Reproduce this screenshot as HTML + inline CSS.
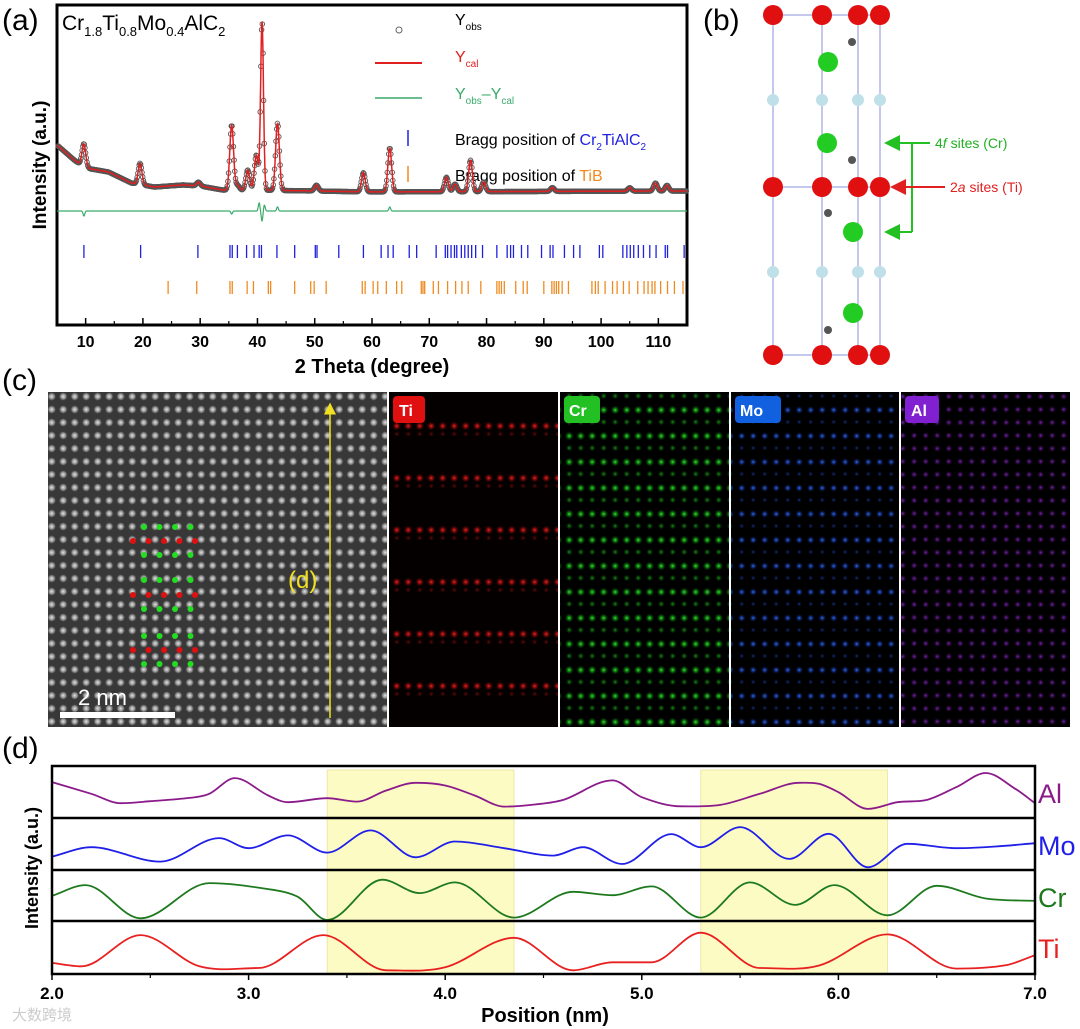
<!DOCTYPE html>
<html><head><meta charset="utf-8"><style>
html,body{margin:0;padding:0;background:#fff;width:1080px;height:1029px;overflow:hidden}
svg{display:block;font-family:"Liberation Sans",Arial,sans-serif}
</style></head><body>
<svg id="fig" width="1080" height="1029" viewBox="0 0 1080 1029" xmlns="http://www.w3.org/2000/svg">
<defs>
<radialGradient id="gw"><stop offset="0" stop-color="#e8e8e8"/><stop offset="0.6" stop-color="#9a9a9a" stop-opacity="0.8"/><stop offset="1" stop-color="#3a3a3a" stop-opacity="0"/></radialGradient>
<pattern id="hr" width="11.5" height="13" patternUnits="userSpaceOnUse"><rect width="11.5" height="13" fill="#383838"/><circle cx="5.7" cy="6.5" r="4.6" fill="url(#gw)"/></pattern>
<radialGradient id="gr"><stop offset="0" stop-color="#ff2020"/><stop offset="1" stop-color="#600" stop-opacity="0"/></radialGradient>
<radialGradient id="gg"><stop offset="0" stop-color="#30f030"/><stop offset="1" stop-color="#060" stop-opacity="0"/></radialGradient>
<radialGradient id="gb"><stop offset="0" stop-color="#3070ff"/><stop offset="1" stop-color="#003" stop-opacity="0"/></radialGradient>
<radialGradient id="gp"><stop offset="0" stop-color="#9a30e0"/><stop offset="1" stop-color="#203" stop-opacity="0"/></radialGradient>
<pattern id="pTi" width="11.5" height="52" patternUnits="userSpaceOnUse" y="420"><rect width="11.5" height="52" fill="#050000"/><circle cx="5.7" cy="6" r="4.5" fill="url(#gr)"/><circle cx="5.7" cy="14" r="3" fill="url(#gr)" opacity="0.4"/></pattern>
<pattern id="pCr" width="11.5" height="26" patternUnits="userSpaceOnUse" y="430"><rect width="11.5" height="26" fill="#000"/><circle cx="5.7" cy="6" r="4.5" fill="url(#gg)"/><circle cx="5.7" cy="18" r="3.5" fill="url(#gg)" opacity="0.6"/></pattern>
<pattern id="pMo" width="11.5" height="26" patternUnits="userSpaceOnUse" y="430"><rect width="11.5" height="26" fill="#000"/><circle cx="5.7" cy="6" r="4.3" fill="url(#gb)"/><circle cx="5.7" cy="18" r="3" fill="url(#gb)" opacity="0.5"/></pattern>
<pattern id="pAl" width="11.5" height="13" patternUnits="userSpaceOnUse"><rect width="11.5" height="13" fill="#000"/><circle cx="5.7" cy="6.5" r="3.8" fill="url(#gp)" opacity="0.8"/></pattern>
<marker id="ag" markerWidth="8" markerHeight="8" refX="7" refY="4" orient="auto"><path d="M0,0L8,4L0,8z" fill="#22c022"/></marker>
<marker id="ar" markerWidth="8" markerHeight="8" refX="7" refY="4" orient="auto"><path d="M0,0L8,4L0,8z" fill="#e02020"/></marker>
<marker id="ay" markerWidth="8" markerHeight="8" refX="7" refY="4" orient="auto"><path d="M0,0L8,4L0,8z" fill="#f0e020"/></marker>
</defs>

<text x="2" y="30" font-size="30">(a)</text>
<text x="703" y="30" font-size="30">(b)</text>
<text x="2" y="390" font-size="30">(c)</text>
<text x="2" y="758" font-size="30">(d)</text>

<g id="pa">
<rect x="57" y="5" width="630" height="320" fill="none" stroke="#000" stroke-width="3"/>
<text x="62" y="30" font-size="21">Cr<tspan font-size="13" dy="6">1.8</tspan><tspan dy="-6">Ti</tspan><tspan font-size="13" dy="6">0.8</tspan><tspan dy="-6">Mo</tspan><tspan font-size="13" dy="6">0.4</tspan><tspan dy="-6">AlC</tspan><tspan font-size="13" dy="6">2</tspan></text>
<g>
<circle cx="399" cy="30" r="3" fill="none" stroke="#666"/>
<text x="455" y="25" font-size="16">Y<tspan font-size="10" dy="5">obs</tspan></text>
<line x1="375" y1="63" x2="422" y2="63" stroke="#e02020" stroke-width="2"/>
<text x="455" y="62" font-size="16" fill="#e02020">Y<tspan font-size="10" dy="5">cal</tspan></text>
<line x1="375" y1="98" x2="422" y2="98" stroke="#3aaa6a" stroke-width="1.5"/>
<text x="455" y="99" font-size="16" fill="#3aaa6a">Y<tspan font-size="10" dy="5">obs</tspan><tspan dy="-5">–Y</tspan><tspan font-size="10" dy="5">cal</tspan></text>
<line x1="408" y1="130" x2="408" y2="146" stroke="#2020e0" stroke-width="1.5"/>
<text x="455" y="145" font-size="16">Bragg position of <tspan fill="#2020e0">Cr</tspan><tspan fill="#2020e0" font-size="10" dy="5">2</tspan><tspan fill="#2020e0" dy="-5">TiAlC</tspan><tspan fill="#2020e0" font-size="10" dy="5">2</tspan></text>
<line x1="408" y1="166" x2="408" y2="182" stroke="#f08a20" stroke-width="1.5"/>
<text x="455" y="181" font-size="16">Bragg position of <tspan fill="#f08a20">TiB</tspan></text>
</g>
<text transform="translate(46,165) rotate(-90)" text-anchor="middle" font-size="19" font-weight="bold">Intensity (a.u.)</text>
<text x="372" y="373" text-anchor="middle" font-size="20" font-weight="bold">2 Theta (degree)</text>
</g>

<g id="pb">
<g stroke="#8890d8" stroke-width="1" fill="none">
<line x1="773" y1="15" x2="773" y2="355"/><line x1="822" y1="15" x2="822" y2="355"/><line x1="858" y1="15" x2="858" y2="355"/><line x1="880" y1="15" x2="880" y2="355"/>
<line x1="773" y1="15" x2="880" y2="15"/><line x1="773" y1="355" x2="880" y2="355"/><line x1="773" y1="187" x2="880" y2="187"/>
</g>
<g id="atoms"></g>
<text x="935" y="148" font-size="14" fill="#22b022">4<tspan font-style="italic">f</tspan> sites (Cr)</text>
<text x="950" y="192" font-size="14" fill="#e02020">2<tspan font-style="italic">a</tspan> sites (Ti)</text>
<path d="M930,143 L912,143 L912,232" stroke="#22c022" stroke-width="2" fill="none"/>
<line x1="912" y1="143" x2="886" y2="143" stroke="#22c022" stroke-width="2" marker-end="url(#ag)"/>
<line x1="912" y1="232" x2="886" y2="232" stroke="#22c022" stroke-width="2" marker-end="url(#ag)"/>
<line x1="945" y1="187" x2="892" y2="187" stroke="#e02020" stroke-width="2" marker-end="url(#ar)"/>
</g>

<g id="pc">
<rect x="48" y="392" width="339" height="335" fill="url(#hr)"/>
<g id="overlay"></g>
<line x1="330" y1="718" x2="330" y2="404" stroke="#f0e020" stroke-width="1.5" marker-end="url(#ay)"/>
<text x="288" y="588" font-size="24" fill="#f0e020">(d)</text>
<rect x="60" y="712" width="115" height="6" fill="#fff"/>
<text x="78" y="705" font-size="22" fill="#fff">2 nm</text>
<rect x="389" y="392" width="169" height="335" fill="url(#pTi)"/>
<rect x="560" y="392" width="169" height="335" fill="url(#pCr)"/>
<rect x="731" y="392" width="168" height="335" fill="url(#pMo)"/>
<rect x="901" y="392" width="169" height="335" fill="url(#pAl)"/>
<rect x="393" y="396" width="32" height="27" rx="4" fill="#e01010"/><text x="399" y="416" font-size="16" font-weight="bold" fill="#fff">Ti</text>
<rect x="564" y="396" width="36" height="27" rx="4" fill="#22c022"/><text x="569" y="416" font-size="16" font-weight="bold" fill="#fff">Cr</text>
<rect x="735" y="396" width="46" height="27" rx="4" fill="#1060e0"/><text x="740" y="416" font-size="16" font-weight="bold" fill="#fff">Mo</text>
<rect x="905" y="396" width="34" height="27" rx="4" fill="#8020d0"/><text x="911" y="416" font-size="16" font-weight="bold" fill="#fff">Al</text>
</g>

<g id="pd">
<text transform="translate(38,868) rotate(-90)" text-anchor="middle" font-size="18" font-weight="bold">Intensity (a.u.)</text>
<text x="545" y="1022" text-anchor="middle" font-size="20" font-weight="bold">Position (nm)</text>
<text x="12" y="1020" font-size="15" fill="#ccc">大数跨境</text>
</g>
</svg>
<script>
// ===== XRD data =====
const bgTheta = [5, 8, 10, 14, 18, 22, 27, 30, 34, 40, 60, 115];
const bgInt   = [342, 263, 221, 200, 142, 121, 132, 126, 105, 105, 95, 100];
const peakPos = [9.7, 19.5, 29.7, 35.5, 36.5, 38.3, 39.8, 40.8, 43.5, 50.3, 58.5, 63.1, 73.0, 74.5, 77.2, 79.5, 91.5, 105.0, 109.5, 111.5];
const peakInt = [121, 111, 20, 342, 25, 105, 184, 884, 353, 31, 100, 231, 76, 40, 165, 50, 20, 18, 42, 30];
const diffPos = [9.7, 35.5, 40.3, 40.8, 41.2, 43.5, 63.1];
const diffInt = [-5, -3, 8, -10, 6, 4, 4];
const braggCr = [9.7,19.6,29.6,35.2,35.6,36.5,38.1,39.4,40.3,40.7,43.4,46.5,50.1,50.4,54.2,58.5,61.6,62.8,63.7,66.5,67.8,71.2,72.8,73.2,73.8,74.4,74.8,75.6,76.2,76.8,77.4,78.1,79.3,81.8,83.6,84.2,84.7,86.1,87.2,89.6,91.1,91.6,93.6,95.2,96.3,99.7,100.3,103.8,104.5,105.1,105.7,106.5,107.4,108.5,109.6,111.2,111.6,114.5];
const braggTiB = [24.4,29.4,35.2,35.6,38.2,39.3,41.9,42.3,46.5,49.3,49.9,52.0,58.3,58.8,60.2,61.0,62.5,64.3,65.2,68.6,68.9,69.2,70.7,71.6,73.2,74.6,75.7,76.8,79.0,81.8,82.2,82.6,83.1,85.1,86.4,87.1,90.0,91.4,91.8,92.2,92.6,93.2,94.3,98.4,99.0,99.5,100.7,102.0,102.8,103.9,104.9,106.4,107.5,108.2,108.9,109.4,110.4,111.6,112.8,114.3];
const xTicks = [10,20,30,40,50,60,70,80,90,100,110];

// ===== Line profile data =====
const alPos = [2.0,2.2,2.35,2.5,2.7,2.8,2.93,3.1,3.2,3.4,3.55,3.7,3.85,4.0,4.15,4.3,4.45,4.6,4.85,5.0,5.2,5.4,5.6,5.8,5.9,6.0,6.15,6.3,6.45,6.6,6.75,6.9,7.0];
const alVal = [107,72,44,50,60,72,119,67,47,59,49,82,105,97,67,34,40,54,112,62,35,39,72,105,102,77,27,47,54,92,134,87,44];
const moPos = [2.0,2.2,2.55,2.85,3.0,3.2,3.4,3.62,3.85,4.05,4.3,4.55,4.7,4.9,5.15,5.3,5.5,5.75,5.95,6.15,6.35,6.6,6.8,7.0];
const moVal = [40,68,25,95,65,103,52,118,38,85,65,43,68,18,107,68,128,33,108,8,78,65,70,80];
const crPos = [2.0,2.17,2.45,2.8,3.1,3.25,3.4,3.68,3.87,4.05,4.35,4.65,4.85,5.05,5.3,5.55,5.78,5.98,6.25,6.5,6.75,7.0];
const crVal = [78,110,11,116,98,75,6,126,86,118,13,90,80,106,13,118,51,110,20,108,70,63];
const tiPos = [2.0,2.15,2.45,2.75,3.05,3.38,3.7,4.0,4.35,4.65,4.85,5.05,5.3,5.6,5.9,6.25,6.6,6.85,7.0];
const tiVal = [30,20,113,20,15,113,8,17,105,8,32,32,120,15,22,115,13,23,53];
const shadeStart = [3.4, 5.3];
const shadeEnd = [4.35, 6.25];
const posTicks = [2.0,3.0,4.0,5.0,6.0,7.0];

const NS = "http://www.w3.org/2000/svg";
function mk(tag, attrs, parent){ const e=document.createElementNS(NS,tag); for(const k in attrs) e.setAttribute(k,attrs[k]); parent.appendChild(e); return e; }
function interp(xs, ys, x){ if(x<=xs[0]) return ys[0]; for(let i=1;i<xs.length;i++){ if(x<=xs[i]){ const t=(x-xs[i-1])/(xs[i]-xs[i-1]); return ys[i-1]+t*(ys[i]-ys[i-1]); } } return ys[ys.length-1]; }
// cubic Hermite with finite-difference tangents (handles uneven spacing)
function smoothPath(pts){
 const n=pts.length, m=[];
 for(let i=0;i<n;i++){ const a=pts[Math.max(0,i-1)], b=pts[Math.min(n-1,i+1)]; m.push((b[1]-a[1])/(b[0]-a[0])); }
 // flatten tangents at local extrema
 for(let i=1;i<n-1;i++){ const d1=pts[i][1]-pts[i-1][1], d2=pts[i+1][1]-pts[i][1]; if(d1*d2<=0) m[i]=0; }
 let d="M"+pts[0][0].toFixed(1)+","+pts[0][1].toFixed(1);
 for(let i=0;i<n-1;i++){ const p1=pts[i], p2=pts[i+1], h=(p2[0]-p1[0])/3;
  d+=" C"+(p1[0]+h).toFixed(1)+","+(p1[1]+m[i]*h).toFixed(1)+" "+(p2[0]-h).toFixed(1)+","+(p2[1]-m[i+1]*h).toFixed(1)+" "+p2[0].toFixed(1)+","+p2[1].toFixed(1); }
 return d; }

const pa = document.getElementById('pa');
const xA = t => 57 + (t-5)/110*630;
const yA = I => 210 - I*0.19;
function gauss(x,w){ return Math.exp(-0.5*(x/w)*(x/w)); }
function calc(t){ let v=interp(bgTheta,bgInt,t); for(let i=0;i<peakPos.length;i++){ const w=peakPos[i]===40.8?0.25:0.33; v+=peakInt[i]*gauss(t-peakPos[i],w);} return v; }
const obs = mk('g',{fill:'none',stroke:'#555','stroke-width':'0.9'},pa);


for(let t=5.2;t<=115;t+=0.12){ mk('circle',{cx:xA(t).toFixed(1),cy:yA(calc(t)).toFixed(1),r:'2.3'},obs); }
let dc="";
for(let t=5;t<=115;t+=0.04){ dc+=(dc?"L":"M")+xA(t).toFixed(1)+","+yA(calc(t)).toFixed(1); }
const cl=mk('path',{d:dc,fill:'none',stroke:'#e02020','stroke-width':'1.5'},pa);


let dd="";
for(let t=5;t<=115;t+=0.05){ let v=0; for(let i=0;i<diffPos.length;i++) v+=diffInt[i]*gauss(t-diffPos[i],0.15); dd+=(dd?"L":"M")+xA(t).toFixed(1)+","+(211-v).toFixed(1); }
const dl=mk('path',{d:dd,fill:'none',stroke:'#3aaa6a','stroke-width':'1.2'},pa);


braggCr.forEach(t=>{ const l=mk('line',{x1:xA(t),x2:xA(t),y1:245,y2:258,stroke:'#2020e0','stroke-width':'1.3'},pa);
 
  });
braggTiB.forEach(t=>{ const l=mk('line',{x1:xA(t),x2:xA(t),y1:281,y2:294,stroke:'#f08a20','stroke-width':'1.3'},pa);
 
  });
xTicks.forEach(t=>{ mk('line',{x1:xA(t),x2:xA(t),y1:325,y2:318,stroke:'#000','stroke-width':'1.5'},pa); mk('line',{x1:xA(t-5),x2:xA(t-5),y1:325,y2:321,stroke:'#000','stroke-width':'1.2'},pa);
 const tx=mk('text',{x:xA(t),y:347,'text-anchor':'middle','font-size':'16','font-weight':'bold'},pa); tx.textContent=t;
 
  });

const at=document.getElementById('atoms');
const cols=[773,822,858,880];
[15,187,355].forEach(y=>cols.forEach(x=>{ const c=mk('circle',{cx:x,cy:y,r:10,fill:'#e01010'},at);
 
  }));
[100,272].forEach(y=>cols.forEach(x=>{ const c=mk('circle',{cx:x,cy:y,r:6,fill:'#bfe0e8'},at);
 
  }));
[[828,62],[827,143],[853,232],[853,313]].forEach(p=>{ const c=mk('circle',{cx:p[0],cy:p[1],r:10,fill:'#22cc22'},at);
 
  });
[[852,42],[852,160],[828,213],[828,330]].forEach(p=>{ const c=mk('circle',{cx:p[0],cy:p[1],r:4,fill:'#555'},at);
 
  });

const ov=document.getElementById('overlay');
[[527,'g'],[541,'r'],[555,'g'],[580,'g'],[595,'r'],[609,'g'],[636,'g'],[650,'r'],[664,'g']].forEach(r=>{ const n=r[1]==='r'?5:4; for(let i=0;i!==n;i++){ const x=(r[1]==='r'?133:144)+i*15.5; mk('circle',{cx:x,cy:r[0],r:3,fill:r[1]==='r'?'#e01010':'#22dd22'},ov);} });

const pd=document.getElementById('pd');
const xD = p => 52 + (p-2)/5*983;
shadeStart.forEach((s,i)=>{ const r=mk('rect',{x:xD(s),y:770,width:xD(shadeEnd[i])-xD(s),height:203,fill:'#fdfbc4',stroke:'#eee8a8'},pd);
 
  });
const rows=[{p:alPos,v:alVal,c:'#8b1a8b',n:'Al',top:766},{p:moPos,v:moVal,c:'#1f1fe8',n:'Mo',top:818},{p:crPos,v:crVal,c:'#1e7a1e',n:'Cr',top:870},{p:tiPos,v:tiVal,c:'#e82020',n:'Ti',top:921}];
rows.forEach(r=>{
 const yv=v=>r.top+52 - v/155*52;
 const pts=r.p.map((p,i)=>[xD(p),yv(r.v[i])]);
 const path=mk('path',{d:smoothPath(pts),fill:'none',stroke:r.c,'stroke-width':'1.8'},pd);
 
 
 const lb=mk('text',{x:1038,y:r.top+37,'font-size':'27',fill:r.c},pd); lb.textContent=r.n;
 
 
});
[818,870,921].forEach(y=>mk('line',{x1:52,x2:1035,y1:y,y2:y,stroke:'#000','stroke-width':'2.5'},pd));
const fr=mk('rect',{x:52,y:766,width:983,height:208,fill:'none',stroke:'#000','stroke-width':'2.5'},pd);


posTicks.forEach(p=>{ mk('line',{x1:xD(p),x2:xD(p),y1:974,y2:980,stroke:'#000','stroke-width':'1.5'},pd); if(p!==7) mk('line',{x1:xD(p+0.5),x2:xD(p+0.5),y1:974,y2:978,stroke:'#000','stroke-width':'1.2'},pd);
 const tx=mk('text',{x:xD(p),y:999,'text-anchor':'middle','font-size':'17','font-weight':'bold'},pd); tx.textContent=p.toFixed(1);
 
  });
</script>
</body></html>
